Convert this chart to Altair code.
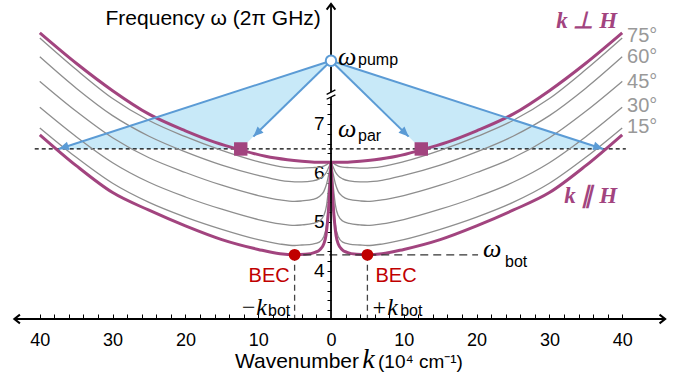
import math
import altair as alt
import pandas as pd

SANS = "Liberation Sans"
SERIF = "Liberation Serif"
PURPLE = "#a2447f"
GRAY = "#8e8e8e"
BLUE = "#5b9bd5"
FILL = "#c8e9f8"
RED = "#c00000"

# ---------------- frame (data units) ----------------
K_MIN, K_MAX = -45.47, 47.94          # wavenumber range of the plot area
W_MIN, W_MAX = 3.02, 9.53             # frequency range of the plot area
PLOT_W, PLOT_H = 680, 319
K_AX_L, K_AX_R = -43.5, 45.9          # ends of the k axis line
W_AX_TOP = 9.45                       # top of the frequency axis line

# ---------------- dispersion curves (k >= 0, mirrored to k < 0) ----------------
PERP_K = [0, 2, 4, 6, 9, 12.4, 16, 20, 25, 30, 35, 40]
PERP_W = [6.22, 6.22, 6.24, 6.27, 6.34, 6.47, 6.63, 6.86, 7.20, 7.68, 8.24, 8.86]

PAR_K = [0, 0.1, 0.25, 0.45, 0.7, 1.0, 1.5, 2.2, 3.5, 5, 7, 10, 15, 20, 25, 30, 35, 40]
PAR_W = [6.22, 5.9, 5.45, 5.05, 4.72, 4.55, 4.44, 4.38, 4.34, 4.33, 4.35, 4.44, 4.64,
         4.92, 5.24, 5.60, 6.15, 6.78]

ANG_K = [0, 0.3, 0.6, 1.0, 1.6, 2.5, 4, 5, 7, 10, 15, 20, 25, 30, 35, 40]
ANG_75 = [6.22, 6.20, 6.17, 6.14, 6.12, 6.11, 6.10, 6.10, 6.13, 6.23, 6.46, 6.74, 7.07, 7.52, 8.11, 8.755]
ANG_60 = [6.22, 6.12, 6.02, 5.94, 5.88, 5.84, 5.82, 5.82, 5.85, 5.95, 6.16, 6.43, 6.75, 7.17, 7.73, 8.37]
ANG_45 = [6.22, 5.98, 5.78, 5.62, 5.52, 5.46, 5.43, 5.42, 5.45, 5.54, 5.75, 6.01, 6.31, 6.72, 7.26, 7.87]
ANG_30 = [6.22, 5.75, 5.35, 5.13, 5.02, 4.97, 4.94, 4.93, 4.96, 5.05, 5.26, 5.51, 5.81, 6.21, 6.74, 7.34]
ANG_15 = [6.22, 5.45, 4.95, 4.70, 4.59, 4.55, 4.53, 4.52, 4.55, 4.64, 4.85, 5.10, 5.40, 5.79, 6.32, 6.92]
ANG_NAMES = ["75°", "60°", "45°", "30°", "15°"]
ANG_LABEL_W = [8.80, 8.37, 7.86, 7.37, 6.94]
ANG_LABEL_K = 40.66

# ---------------- special points ----------------
W_PUMP = 8.29      # pump frequency (drawn above the axis break)
W_PAR = 6.49       # parametric magnons
W_BOT = 4.33       # bottom of the spectrum
K_FAR = 37.4       # k|| crossing of omega_par
K_NEAR = 12.4      # k-perp crossing of omega_par
K_BOT = 5.0
NEAR_TIP = 0.86    # arrow to the square stops short of it
BREAK_W = [7.55, 7.65]

X_LABELS = [-40, -30, -20, -10, 0, 10, 20, 30, 40]
X_TICKS = [v for v in range(-40, 41, 2) if v != 0]
Y_TICKS = [round(3.2 + 0.2 * i, 1) for i in range(22)]

# ---------------- helpers ----------------
XS = alt.Scale(domain=[K_MIN, K_MAX], nice=False, zero=False)
YS = alt.Scale(domain=[W_MIN, W_MAX], nice=False, zero=False)
PX_K = PLOT_W / (K_MAX - K_MIN)
PX_W = PLOT_H / (W_MAX - W_MIN)


def X(field="k", axis=None):
    return alt.X(f"{field}:Q", scale=XS, axis=axis)


def Y(field="w", axis=None):
    return alt.Y(f"{field}:Q", scale=YS, axis=axis)


def curve_rows(name, ks, ws):
    rows = []
    for s in (-1, 1):
        for k, w in zip(ks, ws):
            rows.append({"key": f"{name}{s}", "k": s * k, "w": w})
    return rows


def text_layer(rows, **kw):
    df = pd.DataFrame(rows, columns=["k", "w", "t"])
    return alt.Chart(df).mark_text(**kw).encode(x=X(), y=Y(), text="t:N")


def seg_layer(rows, **kw):
    df = pd.DataFrame(rows, columns=["k", "w", "k2", "w2"])
    return alt.Chart(df).mark_rule(**kw).encode(
        x=X(), y=Y(), x2=alt.X2("k2"), y2=alt.Y2("w2"))


def px_angle(k0, w0, k1, w1):
    dx = (k1 - k0) * PX_K
    dy = -(w1 - w0) * PX_W
    return math.degrees(math.atan2(dx, -dy)) % 360


# ---------------- layers ----------------
fill_rows = []
for s in (-1, 1):
    top_near = W_PAR + (W_PUMP - W_PAR) * (1 - K_NEAR / K_FAR)
    fill_rows += [
        {"side": s, "k": s * K_FAR, "w": W_PAR, "w2": W_PAR},
        {"side": s, "k": s * K_NEAR, "w": top_near, "w2": W_PAR},
        {"side": s, "k": 0.0, "w": W_PUMP, "w2": W_PUMP},
    ]
fill = alt.Chart(pd.DataFrame(fill_rows)).mark_area(color=FILL, opacity=1).encode(
    x=X(axis=alt.Axis(orient="top", offset=-PLOT_H, values=X_TICKS, labels=False,
                      domain=False, grid=False, tickSize=5, tickColor="black",
                      tickWidth=1, title=None)),
    y=Y(), y2=alt.Y2("w2"), detail="side:N")

par_line = seg_layer([(-40.7, W_PAR, 40.5, W_PAR)], color="black", strokeWidth=1.3,
                     strokeDash=[4, 3])

gray_rows = []
for name, ws in zip(ANG_NAMES, [ANG_75, ANG_60, ANG_45, ANG_30, ANG_15]):
    gray_rows += curve_rows(name, ANG_K, ws)
y_axis = alt.Axis(orient="left", offset=-PLOT_W * (0 - K_MIN) / (K_MAX - K_MIN),
                  values=Y_TICKS,
                  labelExpr="abs(datum.value - round(datum.value)) < 0.01 ? format(datum.value, 'd') : ''",
                  domain=False, grid=False, tickSize=4, tickColor="black", tickWidth=1,
                  labelFont=SANS, labelFontSize=19, labelColor="black", labelPadding=3,
                  labelOverlap=False, title=None)
grays = alt.Chart(pd.DataFrame(gray_rows)).mark_line(
    color=GRAY, strokeWidth=1.3, interpolate="monotone").encode(
    x=X(), y=Y(axis=y_axis), detail="key:N")

purple_rows = curve_rows("perp", PERP_K, PERP_W) + curve_rows("par", PAR_K, PAR_W)
x_axis = alt.Axis(orient="bottom", values=X_LABELS, labelExpr="format(abs(datum.value), 'd')",
                  domain=False, grid=False, ticks=False, tickSize=0, labelPadding=12,
                  labelFont=SANS, labelFontSize=18, labelColor="black", title=None)
purples = alt.Chart(pd.DataFrame(purple_rows)).mark_line(
    color=PURPLE, strokeWidth=3, interpolate="monotone").encode(
    x=X(axis=x_axis), y=Y(), detail="key:N")

bot_line = seg_layer([(-5.6, W_BOT, 20.2, W_BOT)], color="#333333", strokeWidth=1.3,
                     strokeDash=[8, 5])
bot_vert = seg_layer([(-K_BOT, W_BOT, -K_BOT, W_MIN), (K_BOT, W_BOT, K_BOT, W_MIN)],
                     color="#444444", strokeWidth=1.3, strokeDash=[6, 4])

arrow_rows = []
for s in (-1, 1):
    arrow_rows.append((0.0, W_PUMP, s * K_FAR, W_PAR))
    arrow_rows.append((0.0, W_PUMP, s * K_NEAR * NEAR_TIP, W_PUMP + (W_PAR - W_PUMP) * NEAR_TIP))
arrows = seg_layer(arrow_rows, color=BLUE, strokeWidth=2)
head_df = pd.DataFrame([{"k": r[2], "w": r[3], "a": px_angle(*r)} for r in arrow_rows])
heads = alt.Chart(head_df).mark_point(
    shape="M0,0 L0.85,2 L-0.85,2 Z", filled=True, color=BLUE, size=100, opacity=1).encode(
    x=X(), y=Y(), angle=alt.Angle("a:Q", scale=None))

squares = alt.Chart(pd.DataFrame({"k": [-K_NEAR, K_NEAR], "w": [W_PAR, W_PAR]})).mark_point(
    shape="square", filled=True, color=PURPLE, size=180, opacity=1).encode(x=X(), y=Y())
bec = alt.Chart(pd.DataFrame({"k": [-K_BOT, K_BOT], "w": [W_BOT, W_BOT]})).mark_point(
    shape="circle", filled=True, color=RED, size=140, opacity=1).encode(x=X(), y=Y())
pump = alt.Chart(pd.DataFrame({"k": [0.0], "w": [W_PUMP]})).mark_point(
    shape="circle", filled=True, fill="white", stroke=BLUE, strokeWidth=2, size=110,
    opacity=1).encode(x=X(), y=Y())

axis_lines = seg_layer([(K_AX_L, W_MIN, K_AX_R, W_MIN), (0, W_MIN, 0, W_AX_TOP)],
                       color="black", strokeWidth=1.8)
chev_df = pd.DataFrame({"k": [K_AX_L, K_AX_R, 0], "w": [W_MIN, W_MIN, W_AX_TOP],
                        "a": [0, 180, 90]})
chevrons = alt.Chart(chev_df).mark_point(
    shape="M1.6,-1.25 L0,0 L1.6,1.25", filled=False, color="black", strokeWidth=2,
    size=49, opacity=1).encode(x=X(), y=Y(), angle=alt.Angle("a:Q", scale=None))
gap = seg_layer([(0, BREAK_W[0], 0, BREAK_W[1])], color="white", strokeWidth=4)
slashes = seg_layer([(-0.6, w - 0.045, 0.6, w + 0.045) for w in BREAK_W],
                    color="black", strokeWidth=1.3)

# ---------------- texts ----------------
t_title_y = text_layer([(-1.4, 9.02, "Frequency ω (2π GHz)")], font=SANS, fontSize=21,
                       align="right", baseline="alphabetic", color="black")
t_omega = text_layer([(0.96, 8.204, "ω"), (0.96, 6.735, "ω"), (20.88, 4.286, "ω")],
                     font=SERIF, fontStyle="italic", fontSize=26, align="left",
                     baseline="alphabetic", color="black")
t_sub = text_layer([(3.71, 8.20, "pump"), (3.71, 6.65, "par"), (23.9, 4.09, "bot"),
                    (-8.65, 3.08, "bot"), (9.5, 3.08, "bot")],
                   font=SANS, fontSize=16, align="left", baseline="alphabetic", color="black")
t_kbot_l = text_layer([(-8.79, 3.10, "−k")], font=SERIF, fontStyle="italic", fontSize=24,
                      align="right", baseline="alphabetic", color="black")
t_kbot_r = text_layer([(5.5, 3.10, "+k")], font=SERIF, fontStyle="italic", fontSize=24,
                      align="left", baseline="alphabetic", color="black")
t_bec = text_layer([(-8.5, 3.776, "BEC"), (8.93, 3.776, "BEC")], font=SANS, fontSize=20,
                   align="center", baseline="alphabetic", color=RED)
t_kh = text_layer([(39.29, 8.96, "k ⊥ H"), (39.29, 5.388, "k ∥ H")], font=SERIF,
                  fontStyle="italic", fontWeight="bold", fontSize=23, align="right",
                  baseline="alphabetic", color=PURPLE)
t_ang = text_layer([(ANG_LABEL_K, w, n) for w, n in zip(ANG_LABEL_W, ANG_NAMES)],
                   font=SANS, fontSize=20, align="left", baseline="middle", color="#999999")
t_xt1 = text_layer([(3.85, 2.02, "Wavenumber")], font=SANS, fontSize=21, align="right",
                   baseline="alphabetic", color="black")
t_xt2 = text_layer([(5.15, 2.02, "k")], font=SERIF, fontStyle="italic", fontSize=28,
                   align="center", baseline="alphabetic", color="black")
t_xt3 = text_layer([(6.46, 2.02, "(10⁴ cm⁻¹)")], font=SANS, fontSize=19, align="left",
                   baseline="alphabetic", color="black")

chart = alt.layer(
    fill, par_line, grays, purples, bot_line, bot_vert, arrows, heads, squares, bec,
    axis_lines, gap, slashes, chevrons, pump,
    t_title_y, t_omega, t_sub, t_kbot_l, t_kbot_r, t_bec, t_kh, t_ang, t_xt1, t_xt2, t_xt3,
).resolve_axis(x="independent", y="independent").properties(
    width=PLOT_W, height=PLOT_H,
    autosize=alt.AutoSizeParams(type="none"),
    padding={"left": 0, "top": 0, "right": 0, "bottom": 384 - PLOT_H},
).configure_view(stroke=None)

chart.save("out.html", embed_options={"renderer": "svg", "actions": False})
